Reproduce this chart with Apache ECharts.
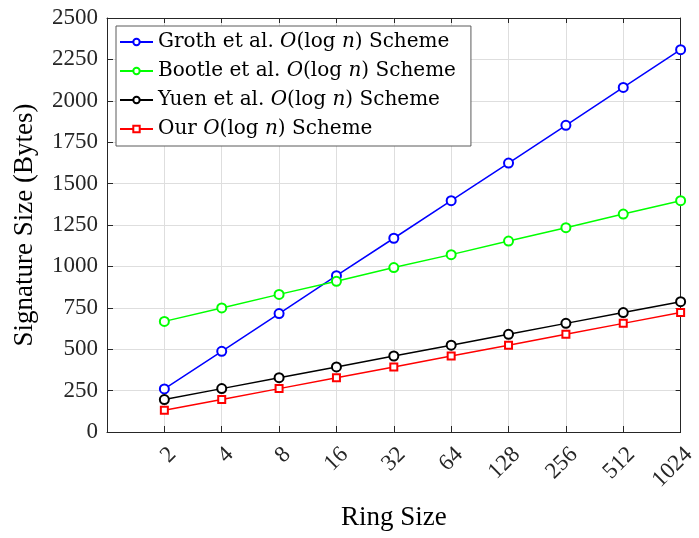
<!DOCTYPE html>
<html>
<head>
<meta charset="utf-8">
<script src="https://cdn.jsdelivr.net/npm/echarts@6/dist/echarts.min.js"></script>
<style>
  html, body { margin: 0; padding: 0; background: #fff; }
  #chart { width: 699px; height: 538px; }
</style>
</head>
<body>
<div id="chart"></div>
<script>
// Ring sizes (x) and signature sizes in bytes for each scheme
const ringSizes = [2, 4, 8, 16, 32, 64, 128, 256, 512, 1024];
const groth  = [260, 487, 715, 944, 1170, 1397, 1624, 1852, 2081, 2309];
const bootle = [668, 749, 831, 910, 993, 1071, 1153, 1234, 1316, 1397];
const yuen   = [196, 262, 328, 393, 459, 524, 590, 656, 721, 787];
const ours   = [131, 196, 262, 328, 393, 459, 524, 590, 656, 721];
const yTicks = [0, 250, 500, 750, 1000, 1250, 1500, 1750, 2000, 2250, 2500];

const serif = 'Liberation Serif';
const axisColor = '#262626';
const gridColor = '#dedede';

function pairs(values) {
  return ringSizes.map((x, i) => [x, values[i]]);
}

function lineSeries(name, values, color, symbol, size) {
  return {
    name: name,
    type: 'line',
    data: pairs(values),
    symbol: symbol,
    symbolSize: size,
    showAllSymbol: true,
    lineStyle: { color: color, width: 1.5 },
    itemStyle: { color: color, borderColor: color, borderWidth: 1.5 },
    emphasis: { disabled: true },
    z: 3
  };
}

const chart = echarts.init(document.getElementById('chart'), null, { renderer: 'canvas' });

const xBase = {
  type: 'log',
  logBase: 2,
  min: 1,
  max: 1024,
  interval: 1
};
const yBase = {
  type: 'value',
  min: yTicks[0],
  max: yTicks[yTicks.length - 1],
  interval: yTicks[1] - yTicks[0]
};

chart.setOption({
  animation: false,
  backgroundColor: '#ffffff',
  grid: { left: 107, right: 17, top: 18, bottom: 106, containLabel: false },
  legend: {
    left: 116,
    top: 26,
    orient: 'vertical',
    itemWidth: 33,
    itemHeight: 8,
    itemGap: 7,
    padding: [5, 15, 6, 3],
    backgroundColor: '#ffffff',
    borderColor: '#5a5a5a',
    borderWidth: 1,
    borderRadius: 0,
    selectedMode: false,
    data: ['Groth et al.', 'Bootle et al.', 'Yuen et al.', 'Our'],
    formatter: name => name + ' {it|O}(log {it|n}) Scheme',
    textStyle: {
      fontFamily: 'DejaVu Serif',
      fontSize: 20,
      lineHeight: 22,
      color: '#000',
      rich: {
        it: { fontFamily: 'DejaVu Serif', fontStyle: 'italic', fontSize: 20, lineHeight: 22, color: '#000' }
      }
    }
  },
  xAxis: [
    Object.assign({}, xBase, {
      position: 'bottom',
      name: 'Ring Size',
      nameLocation: 'middle',
      nameGap: 72,
      nameTextStyle: { fontFamily: serif, fontSize: 27, color: '#000' },
      axisLine: { onZero: false, lineStyle: { color: axisColor, width: 1 } },
      axisTick: { inside: true, length: 6, lineStyle: { color: axisColor } },
      axisLabel: {
        rotate: 45,
        margin: 11,
        verticalAlign: 'top',
        fontFamily: serif,
        fontSize: 23,
        color: '#262626',
        formatter: v => (v === 1 ? '' : String(v))
      },
      splitLine: { show: true, lineStyle: { color: gridColor, width: 1 } }
    }),
    Object.assign({}, xBase, {
      position: 'top',
      axisLine: { onZero: false, lineStyle: { color: axisColor, width: 1 } },
      axisTick: { inside: true, length: 5, lineStyle: { color: axisColor } },
      axisLabel: { show: false },
      splitLine: { show: false }
    })
  ],
  yAxis: [
    Object.assign({}, yBase, {
      position: 'left',
      name: 'Signature Size (Bytes)',
      nameLocation: 'middle',
      nameGap: 69,
      nameTextStyle: { fontFamily: serif, fontSize: 27, color: '#000' },
      axisLine: { show: true, onZero: false, lineStyle: { color: axisColor, width: 1 } },
      axisTick: { show: true, inside: true, length: 6, lineStyle: { color: axisColor } },
      axisLabel: {
        margin: 9,
        fontFamily: serif,
        fontSize: 23,
        color: '#262626',
        formatter: v => String(v)
      },
      splitLine: { show: true, lineStyle: { color: gridColor, width: 1 } }
    }),
    Object.assign({}, yBase, {
      position: 'right',
      axisLine: { show: true, onZero: false, lineStyle: { color: axisColor, width: 1 } },
      axisTick: { show: true, inside: true, length: 5, lineStyle: { color: axisColor } },
      axisLabel: { show: false },
      splitLine: { show: false }
    })
  ],
  series: [
    lineSeries('Groth et al.', groth, '#0000ff', 'emptyCircle', 9),
    lineSeries('Bootle et al.', bootle, '#00ff00', 'emptyCircle', 9),
    lineSeries('Yuen et al.', yuen, '#000000', 'emptyCircle', 9),
    lineSeries('Our', ours, '#ff0000', 'emptyRect', 7)
  ]
});
</script>
</body>
</html>
